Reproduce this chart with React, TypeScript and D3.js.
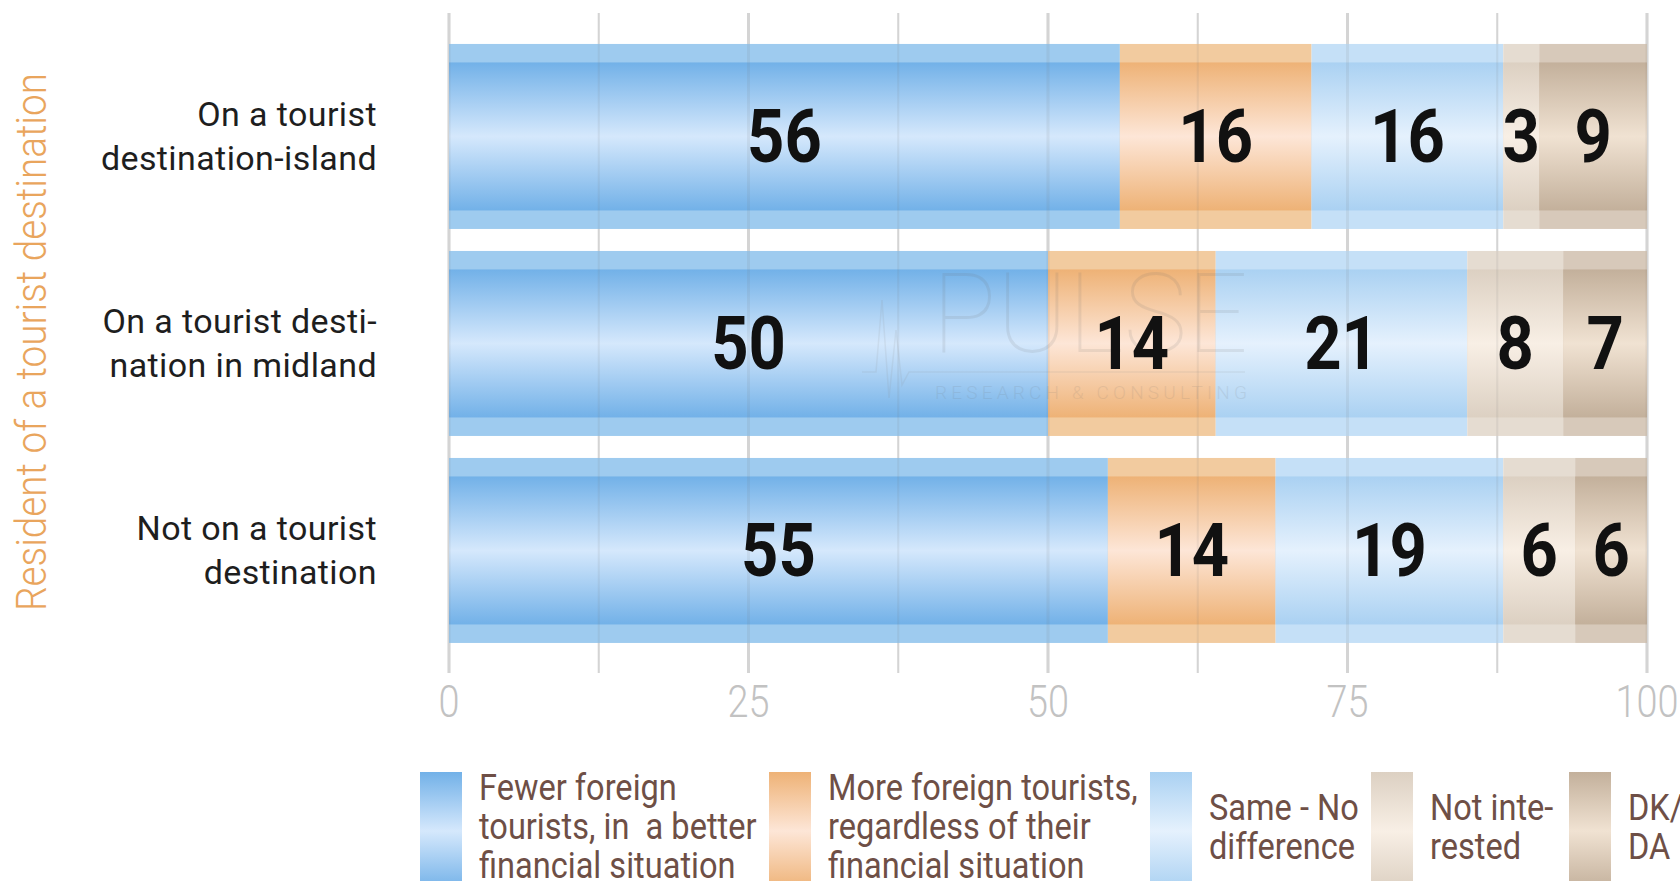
import React from "react";
import * as d3 from "d3";

// ---------- data ----------
const categories = [
  "On a tourist destination-island",
  "On a tourist destination in midland",
  "Not on a tourist destination",
];
const categoryLines = [
  ["On a tourist", "destination-island"],
  ["On a tourist desti-", "nation in midland"],
  ["Not on a tourist", "destination"],
];
const seriesKeys = ["fewer", "more", "same", "notInterested", "dkda"];
const seriesLabels = [
  ["Fewer foreign", "tourists, in  a better", "financial situation"],
  ["More foreign tourists,", "regardless of their", "financial situation"],
  ["Same - No", "difference"],
  ["Not inte-", "rested"],
  ["DK/", "DA"],
];
const fewer = [56, 50, 55];
const more = [16, 14, 14];
const same = [16, 21, 19];
const notInterested = [3, 8, 6];
const dkda = [9, 7, 6];
const xTickLabels = [0, 25, 50, 75, 100];
const gridValues = [0, 12.5, 25, 37.5, 50, 62.5, 75, 87.5, 100];
const yTitle = "Resident of a tourist destination";

// ---------- styles ----------
const palette: Record<string, { outer: string; edge: string; mid: string }> = {
  fewer: { outer: "#9ecbef", edge: "#72b1e8", mid: "#d5e8fc" },
  more: { outer: "#f2cb9f", edge: "#eeb276", mid: "#fde6d7" },
  same: { outer: "#c5e0f7", edge: "#aad1f2", mid: "#e5f1fd" },
  notInterested: { outer: "#e5dcd1", edge: "#dcd0c2", mid: "#f8efe5" },
  dkda: { outer: "#d7c9ba", edge: "#c3b09b", mid: "#f0e2d2" },
};
const legendLayout = [420, 769, 1150, 1371, 1569];

const W = 1680;
const H = 881;

export default function App() {
  const x = d3.scaleLinear().domain([0, 100]).range([449, 1647]);
  const y = d3
    .scaleBand<string>()
    .domain(categories)
    .range([33.6, 653.3])
    .paddingInner(0.1063)
    .paddingOuter(0.05);
  const bw = y.bandwidth();

  const rows = categories.map((c, i) => ({
    cat: c,
    fewer: fewer[i],
    more: more[i],
    same: same[i],
    notInterested: notInterested[i],
    dkda: dkda[i],
  }));
  const stacked = d3.stack<any>().keys(seriesKeys)(rows);

  const cond = (sx: number, tx: number, ty: number) =>
    `translate(${tx},${ty}) scale(${sx},1)`;

  return (
    <div
      style={{
        position: "fixed",
        left: 0,
        top: 0,
        width: W,
        height: H,
        overflow: "hidden",
        background: "#fff",
      }}
    >
      <svg width={W} height={H} style={{ display: "block" }} fontFamily="Roboto, 'Noto Sans', sans-serif">
        <defs>
          {seriesKeys.map((k) => (
            <linearGradient key={k} id={`g-${k}`} x1="0" y1="0" x2="0" y2="1">
              <stop offset="0" stopColor={palette[k].edge} />
              <stop offset="0.5" stopColor={palette[k].mid} />
              <stop offset="1" stopColor={palette[k].edge} />
            </linearGradient>
          ))}
        </defs>

        {/* grid under bars */}
        {gridValues.map((v) => (
          <line
            key={`gu${v}`}
            x1={x(v)}
            x2={x(v)}
            y1={13}
            y2={673}
            stroke="#e0e0e0"
            strokeWidth={v % 25 === 0 ? 3 : 2}
          />
        ))}

        {/* bars */}
        {stacked.map((s) => (
          <g key={s.key}>
            {s.map((d: any, i: number) => {
              const cat = categories[i];
              const x0 = x(d[0]);
              const x1 = x(d[1]);
              const yy = y(cat)!;
              return (
                <g key={cat}>
                  <rect x={x0} y={yy} width={x1 - x0} height={bw} fill={palette[s.key].outer} />
                  <rect
                    x={x0}
                    y={yy + bw * 0.1}
                    width={x1 - x0}
                    height={bw * 0.8}
                    fill={`url(#g-${s.key})`}
                  />
                </g>
              );
            })}
          </g>
        ))}

        {/* grid over bars (faint) */}
        {gridValues.map((v) => (
          <line
            key={`go${v}`}
            x1={x(v)}
            x2={x(v)}
            y1={13}
            y2={673}
            stroke="#7a7a7a"
            strokeOpacity={0.11}
            strokeWidth={v % 25 === 0 ? 3 : 2}
          />
        ))}

        {/* watermark */}
        <g opacity={0.12} fill="#6b6b6b">
          <text
            x={932}
            y={352}
            fontSize={112}
            fontWeight={100}
            textLength={316}
            lengthAdjust="spacingAndGlyphs"
          >
            PULSE
          </text>
          <text
            x={935}
            y={399}
            fontSize={19}
            fontWeight={300}
            textLength={312}
            lengthAdjust="spacing"
          >
            RESEARCH &amp; CONSULTING
          </text>
          <path
            d="M862,372 L876,372 L882,300 L889,398 L896,330 L902,385 L909,372 L1245,372"
            fill="none"
            stroke="#8a8a8a"
            strokeWidth={1.5}
          />
        </g>

        {/* value labels */}
        {stacked.map((s) => (
          <g key={`l${s.key}`}>
            {s.map((d: any, i: number) => {
              const cat = categories[i];
              const cx = (x(d[0]) + x(d[1])) / 2;
              const cy = y(cat)! + bw / 2;
              return (
                <text
                  key={cat}
                  transform={cond(0.88, cx, cy + 26)}
                  textAnchor="middle"
                  fontSize={74}
                  fontWeight={700}
                  fill="#111"
                >
                  {d[1] - d[0]}
                </text>
              );
            })}
          </g>
        ))}

        {/* category labels */}
        {categories.map((c, i) => {
          const cy = y(c)! + bw / 2;
          return (
            <text key={c} textAnchor="end" fontSize={34} fill="#1e1e1e" letterSpacing={0.4}>
              {categoryLines[i].map((ln, j) => (
                <tspan key={j} x={377} y={cy - 10 + j * 44}>
                  {ln}
                </tspan>
              ))}
            </text>
          );
        })}

        {/* x tick labels */}
        {xTickLabels.map((t) => (
          <text
            key={t}
            transform={cond(0.86, x(t), 717)}
            textAnchor="middle"
            fontSize={44}
            fontWeight={300}
            fill="#c2c2c2"
          >
            {t}
          </text>
        ))}

        {/* y title */}
        <text
          transform={`translate(46,342) rotate(-90)`}
          textAnchor="middle"
          fontSize={42}
          fontWeight={300}
          fill="#e9a55d"
          textLength={538}
          lengthAdjust="spacingAndGlyphs"
        >
          {yTitle}
        </text>

        {/* legend */}
        {seriesKeys.map((k, i) => {
          const lx = legendLayout[i];
          const lines = seriesLabels[i];
          const cy = 826;
          return (
            <g key={`lg${k}`}>
              <rect x={lx} y={772} width={42} height={118} fill={`url(#g-${k})`} />
              {lines.map((ln, j) => {
                const lcy = cy + (j - (lines.length - 1) / 2) * 39;
                return (
                  <text
                    key={`t${j}`}
                    transform={cond(0.88, lx + 59, lcy + 13)}
                    fontSize={37}
                    fill="#6e4f46"
                    style={{ whiteSpace: "pre" }}
                  >
                    {ln}
                  </text>
                );
              })}
            </g>
          );
        })}
      </svg>
    </div>
  );
}
